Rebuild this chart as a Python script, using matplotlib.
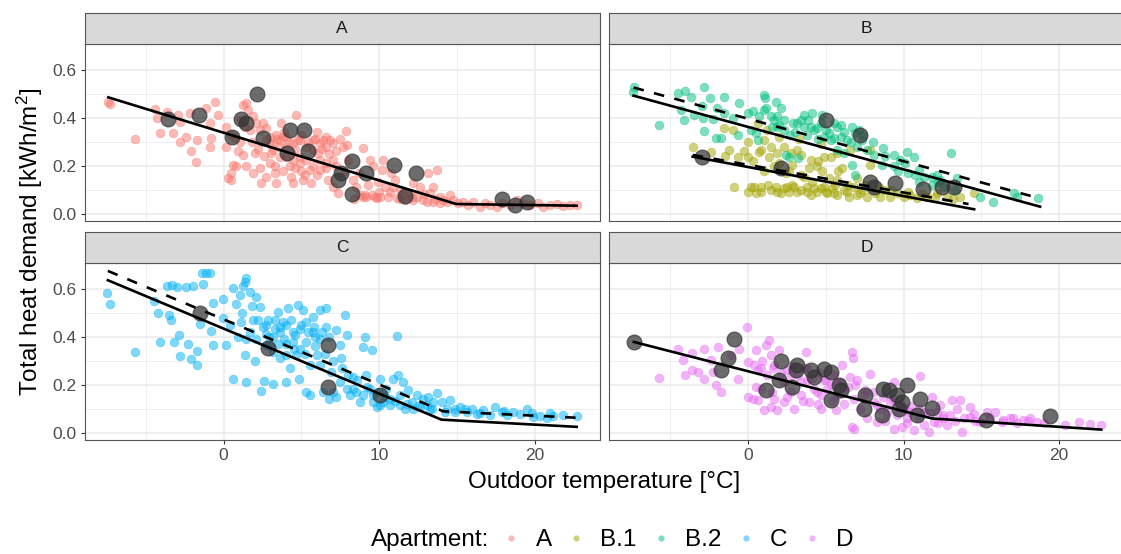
import matplotlib.pyplot as plt
from matplotlib.lines import Line2D
import numpy as np

plt.rcParams['font.family'] = ['Liberation Sans', 'DejaVu Sans']
plt.rcParams['mathtext.fontset'] = 'custom'
plt.rcParams['mathtext.rm'] = 'Liberation Sans'
plt.rcParams['mathtext.it'] = 'Liberation Sans:italic'

# ---- data: (outdoor temperature, heat demand) ----
apt_a = [(-7.45, .465), (-7.34, .457), (-5.73, .312), (-4.44, .438), (-3.65, .426), (-4.27, .399),
         (-4.12, .336), (-3.26, .336), (-2.83, .382), (-2.83, .301), (-2.40, .322), (-2.94, .413),
         (-2.19, .420), (-1.72, .308), (-2.08, .263), (-1.76, .217), (-1.16, .440), (-0.90, .280),
         (-0.79, .315), (-0.90, .378), (-0.58, .465), (-0.36, .413), (0.17, .364), (0.17, .280),
         (0.28, .148), (0.49, .141), (0.60, .203), (0.49, .169), (0.82, .197), (0.71, .315),
         (1.03, .301), (1.24, .245), (1.46, .197), (1.57, .433), (1.46, .461), (1.89, .406),
         (2.10, .378), (2.00, .252), (1.89, .169), (2.32, .190), (2.42, .127), (2.75, .155),
         (2.96, .210), (3.07, .252), (3.28, .169), (3.39, .127), (3.61, .308), (3.71, .378),
         (3.82, .322), (4.03, .280), (4.25, .197), (4.36, .155), (4.46, .127), (4.68, .413),
         (4.79, .308), (4.89, .238), (5.00, .176), (5.11, .141), (5.54, .183), (5.64, .127),
         (5.75, .308), (5.97, .343), (6.07, .252), (6.18, .224), (6.39, .308), (6.61, .280),
         (6.72, .141), (6.82, .308), (7.04, .113), (7.25, .197), (7.36, .085), (7.68, .280),
         (7.85, .347), (7.90, .287), (8.00, .224), (8.33, .141), (8.54, .113), (8.76, .078),
         (8.97, .273), (9.08, .078), (9.40, .224), (9.61, .197), (9.72, .071), (10.04, .071),
         (10.15, .183), (10.26, .224), (10.36, .113), (10.58, .071), (10.79, .169), (11.01, .141),
         (11.12, .064), (11.33, .099), (11.65, .057), (11.97, .085), (12.19, .127), (12.40, .071),
         (12.62, .113), (12.83, .057), (13.15, .169), (13.26, .085), (13.48, .113), (13.69, .183),
         (13.91, .071), (14.12, .057), (14.33, .050), (14.55, .078), (14.76, .057), (15.09, .043),
         (15.41, .050), (15.73, .036), (16.05, .050), (16.48, .029), (16.80, .043), (17.12, .036),
         (17.55, .029), (17.88, .043), (18.41, .036), (18.84, .057), (19.27, .043), (19.70, .036),
         (20.24, .043), (20.56, .029), (20.99, .036), (21.42, .040), (21.85, .032), (22.27, .036),
         (22.70, .036), (2.75, .308), (2.96, .322), (3.18, .294), (3.39, .329), (3.61, .280),
         (4.03, .322), (4.46, .294), (4.89, .308), (5.32, .280), (5.75, .266), (6.18, .294),
         (6.61, .322), (7.04, .294), (3.18, .266), (3.61, .238), (4.03, .238), (4.46, .224),
         (4.89, .210), (5.32, .224), (5.75, .197), (6.18, .183), (6.61, .210), (7.04, .224),
         (1.03, .392), (1.24, .454), (1.35, .364), (1.67, .350), (2.32, .350), (2.53, .378),
         (2.75, .357), (8.97, .071), (9.18, .071), (9.51, .078), (9.83, .064), (11.33, .060),
         (12.19, .057), (13.05, .050), (13.48, .050), (13.91, .043),
         (0.5, .33), (0.9, .26), (1.8, .30), (2.2, .27), (2.6, .24), (3.0, .29), (3.4, .31),
         (3.9, .34), (4.2, .30), (4.6, .27), (5.0, .33), (5.4, .30), (5.9, .31), (6.3, .27),
         (6.8, .25), (7.2, .26), (7.5, .31), (3.3, .20), (3.8, .18), (4.6, .19), (5.2, .16),
         (6.0, .16), (6.6, .19), (7.8, .18), (8.7, .17), (9.3, .12), (10.0, .09), (10.7, .09),
         (11.5, .08), (12.1, .07), (12.9, .08), (13.6, .06), (9.9, .13), (10.9, .11), (8.4, .06)]

apt_b1 = [(-3.57, .277), (-2.39, .259), (-1.54, .357), (-1.22, .266), (-1.00, .350), (-0.90, .113),
          (-0.68, .238), (-0.04, .238), (-0.04, .092), (0.17, .113), (0.49, .085), (0.60, .378),
          (0.71, .259), (0.81, .113), (1.03, .308), (1.24, .350), (1.34, .238), (1.45, .099),
          (1.67, .197), (1.77, .113), (2.09, .085), (2.31, .106), (2.41, .169), (2.63, .092),
          (2.84, .203), (2.95, .113), (3.16, .092), (3.38, .245), (3.59, .155), (3.80, .113),
          (4.02, .078), (4.23, .106), (4.44, .197), (4.44, .092), (4.76, .176), (4.87, .113),
          (5.09, .085), (5.30, .238), (5.41, .106), (5.73, .141), (5.73, .078), (6.05, .190),
          (6.15, .099), (6.47, .071), (6.58, .266), (6.79, .113), (7.01, .078), (7.33, .099),
          (7.65, .071), (7.86, .266), (7.86, .203), (8.18, .085), (8.50, .071), (8.82, .099),
          (9.15, .071), (9.57, .085), (10.00, .071), (10.43, .078), (10.85, .064), (11.50, .071),
          (12.14, .085), (12.78, .071), (13.63, .071), (14.49, .085), (0.38, .113), (0.81, .092),
          (1.88, .092), (2.52, .113), (3.38, .099), (3.80, .092), (4.66, .106), (4.98, .092),
          (5.51, .085), (6.37, .092), (7.22, .085), (0.81, .266), (1.45, .280), (1.88, .252),
          (2.31, .280), (2.74, .252), (3.16, .266), (4.02, .224), (4.87, .238), (5.73, .252),
          (0.3, .22), (1.0, .18), (2.0, .21), (2.6, .18), (3.4, .16), (3.9, .19), (4.5, .22),
          (5.2, .15), (5.8, .18), (6.4, .12), (7.0, .15), (7.5, .12), (8.4, .11), (9.2, .10),
          (10.3, .09), (11.2, .08), (12.0, .07), (13.2, .06), (1.3, .12), (2.8, .12), (4.1, .13),
          (5.6, .12), (-1.5, .24), (-0.3, .26), (0.0, .30), (2.0, .32), (3.3, .31), (4.7, .29)]

apt_b2 = [(-7.41, .510), (-7.35, .528), (-5.71, .371), (-4.49, .506), (-4.04, .514), (-3.68, .489),
          (-4.32, .433), (-4.10, .392), (-2.82, .531), (-2.46, .482), (-2.82, .347), (-3.46, .413),
          (-2.93, .399), (-2.29, .394), (-2.07, .315), (-1.75, .315), (-1.54, .486), (-1.54, .420),
          (-0.68, .329), (-0.58, .461), (-0.04, .420), (0.17, .350), (0.49, .336), (0.60, .308),
          (0.71, .406), (1.03, .496), (1.07, .482), (1.13, .440), (1.45, .406), (1.77, .468),
          (2.09, .440), (1.67, .392), (1.88, .364), (2.31, .350), (2.41, .245), (2.63, .238),
          (2.91, .378), (3.18, .231), (3.40, .392), (3.61, .413), (3.82, .392), (4.02, .364),
          (4.12, .420), (4.44, .357), (4.66, .378), (4.76, .413), (4.87, .322), (5.19, .336),
          (5.51, .315), (5.73, .364), (5.94, .371), (6.15, .343), (6.37, .308), (6.69, .364),
          (6.90, .336), (7.12, .350), (7.33, .308), (6.69, .203), (6.90, .162), (7.65, .266),
          (8.08, .245), (8.61, .203), (8.68, .273), (9.36, .245), (9.62, .176), (9.79, .224),
          (10.11, .210), (10.21, .259), (10.64, .238), (10.75, .162), (10.96, .183), (11.28, .155),
          (11.82, .155), (12.14, .162), (12.35, .141), (13.06, .252), (13.42, .148), (14.91, .071),
          (15.72, .050), (17.09, .085), (17.26, .071), (18.65, .064), (3.16, .378), (3.59, .364),
          (4.23, .350), (5.30, .308), (5.73, .266), (6.15, .252), (7.01, .280), (1.03, .433),
          (1.88, .406), (2.31, .392),
          (3.0, .34), (3.8, .33), (4.5, .31), (5.0, .35), (5.5, .38), (6.0, .32), (6.6, .30),
          (7.4, .33), (8.0, .30), (8.8, .24), (9.4, .20), (10.3, .17), (11.0, .13), (11.8, .12),
          (12.6, .11), (13.3, .10), (12.2, .13), (1.5, .36), (2.0, .37), (2.7, .33), (-1.0, .40),
          (0.3, .43), (-3.0, .45), (-2.0, .44)]

apt_c = [(-7.51, .582), (-7.34, .536), (-5.69, .335), (-4.51, .550), (-4.23, .498), (-4.08, .377),
         (-3.65, .614), (-3.30, .618), (-2.98, .607), (-2.45, .609), (-1.97, .614), (-3.52, .491),
         (-3.37, .470), (-3.22, .377), (-2.88, .410), (-2.83, .321), (-2.30, .372), (-2.08, .307),
         (-1.72, .340), (-1.72, .282), (-1.37, .669), (-1.12, .669), (-0.90, .669), (-1.33, .621),
         (-1.55, .453), (-0.79, .424), (-0.69, .365), (-0.69, .540), (-0.04, .558), (-0.04, .480),
         (0.17, .368), (0.60, .226), (0.60, .603), (0.82, .536), (1.03, .575), (1.24, .614),
         (1.46, .647), (1.35, .628), (1.46, .212), (1.14, .463), (1.46, .393), (1.35, .324),
         (1.67, .589), (1.89, .470), (2.00, .298), (2.10, .568), (2.32, .526), (2.42, .173),
         (2.58, .215), (2.75, .414), (2.85, .470), (3.18, .205), (3.28, .435), (3.50, .505),
         (3.61, .310), (3.82, .463), (4.03, .212), (4.03, .372), (4.14, .519), (4.25, .268),
         (4.46, .421), (4.68, .324), (4.79, .533), (4.85, .223), (5.11, .512), (5.32, .379),
         (5.32, .170), (5.54, .282), (5.54, .156), (5.75, .484), (5.86, .400), (5.97, .324),
         (6.18, .512), (6.39, .170), (6.61, .519), (6.61, .442), (6.78, .142), (6.93, .254),
         (7.04, .170), (7.25, .149), (7.47, .365), (7.57, .310), (7.79, .491), (7.90, .410),
         (7.90, .184), (8.11, .156), (8.33, .233), (8.54, .170), (8.76, .128), (8.93, .358),
         (9.08, .400), (9.18, .240), (9.40, .184), (9.51, .344), (9.61, .128), (9.83, .107),
         (10.04, .226), (10.26, .128), (10.47, .184), (10.69, .114), (10.90, .226), (11.12, .403),
         (11.22, .240), (11.33, .156), (11.55, .212), (11.65, .100), (11.87, .177), (12.08, .128),
         (12.40, .156), (12.62, .107), (12.83, .142), (13.15, .149), (13.37, .100), (13.69, .167),
         (14.01, .128), (14.33, .100), (14.55, .135), (14.87, .086), (15.19, .107), (15.62, .086),
         (15.94, .100), (16.27, .079), (16.70, .093), (17.12, .073), (17.45, .107), (17.88, .086),
         (18.20, .073), (18.63, .086), (19.06, .079), (19.48, .098), (19.91, .066), (20.34, .070),
         (20.77, .061), (21.20, .070), (21.85, .073), (22.70, .070), (2.75, .449), (3.18, .400),
         (3.61, .421), (4.03, .449), (4.46, .379), (4.89, .435), (5.32, .463), (5.75, .421),
         (6.18, .393), (4.89, .351), (4.03, .324), (3.18, .338), (2.75, .365), (2.10, .393),
         (1.67, .421), (6.18, .282), (7.47, .212), (8.33, .184), (8.97, .156), (9.61, .156),
         (10.04, .114), (10.69, .142), (11.33, .114), (12.19, .100), (13.05, .114), (13.48, .128),
         (14.23, .086), (14.87, .100),
         (0.4, .45), (0.9, .40), (1.2, .50), (1.8, .53), (2.2, .47), (2.5, .44), (2.9, .40),
         (3.3, .47), (3.6, .44), (3.9, .39), (4.3, .47), (4.6, .41), (5.0, .45), (5.4, .42),
         (5.8, .44), (6.3, .42), (6.8, .40), (7.2, .43), (3.0, .36), (3.5, .37), (4.5, .35),
         (5.2, .33), (5.9, .36), (6.5, .33), (7.0, .30), (7.6, .27), (8.0, .24), (8.6, .22),
         (9.2, .19), (9.9, .17), (10.4, .15), (11.0, .13), (11.8, .12), (12.5, .11), (13.3, .10),
         (15.5, .10), (16.5, .08), (18.0, .09), (19.8, .08), (21.0, .08)]

apt_d = [(-5.71, .229), (-4.49, .351), (-4.21, .303), (-4.04, .240), (-3.63, .331), (-3.63, .261),
         (-3.25, .254), (-2.82, .349), (-2.82, .226), (-2.39, .303), (-2.29, .254), (-2.07, .198),
         (-1.75, .170), (-1.97, .358), (-1.11, .324), (-0.68, .226), (-0.58, .351), (-0.09, .442),
         (-0.04, .296), (-0.04, .149), (0.28, .142), (0.49, .344), (0.60, .261), (0.60, .135),
         (0.81, .184), (1.03, .093), (1.13, .365), (1.34, .386), (1.45, .324), (1.45, .107),
         (1.67, .142), (1.88, .093), (1.99, .344), (2.31, .128), (2.52, .261), (2.74, .170),
         (2.95, .100), (3.38, .156), (3.70, .338), (3.80, .219), (3.91, .128), (4.44, .170),
         (4.66, .100), (4.87, .219), (5.09, .184), (5.62, .093), (5.73, .212), (6.05, .282),
         (6.15, .121), (6.58, .233), (6.69, .338), (6.75, .312), (6.69, .024), (6.79, .017),
         (7.01, .219), (7.22, .100), (7.65, .059), (7.86, .247), (8.08, .128), (8.29, .045),
         (8.50, .100), (8.93, .086), (9.36, .212), (9.36, .017), (9.57, .073), (9.89, .024),
         (10.21, .038), (10.64, .010), (11.07, .237), (10.96, .059), (11.28, .031), (11.60, .003),
         (11.82, .149), (11.92, .045), (12.35, .114), (12.56, .073), (12.78, .031), (13.10, .135),
         (13.42, .100), (13.63, .135), (13.74, .003), (13.85, .059), (14.27, .107), (14.49, .079),
         (14.91, .045), (15.34, .086), (15.87, .086), (16.30, .045), (16.84, .059), (17.26, .038),
         (17.69, .052), (18.12, .059), (18.55, .045), (17.00, .059), (21.30, .044), (22.70, .031),
         (22.00, .036), (19.00, .039), (20.40, .031), (18.00, .050), (0.38, .282), (0.81, .268),
         (1.24, .240), (1.67, .282), (2.31, .212), (2.74, .240), (3.38, .212), (3.80, .268),
         (4.23, .184), (4.66, .156), (5.30, .198), (5.73, .156), (6.15, .184), (6.79, .142),
         (7.44, .156), (8.29, .114), (9.15, .128), (10.00, .100), (10.43, .086), (11.28, .086),
         (12.14, .086), (12.99, .073), (14.27, .066), (15.55, .059), (16.41, .052),
         (0.9, .30), (1.6, .27), (2.1, .25), (2.8, .28), (3.2, .24), (3.6, .27), (4.1, .23),
         (4.6, .25), (5.0, .22), (5.5, .24), (6.0, .21), (6.4, .19), (6.9, .20), (7.5, .18),
         (8.0, .17), (8.7, .15), (9.3, .14), (9.8, .12), (10.5, .11), (11.0, .10), (11.7, .08),
         (12.5, .06), (13.3, .05), (14.6, .05), (0.5, .19), (1.5, .17), (2.5, .15), (3.5, .13),
         (4.5, .12), (5.4, .13), (8.8, .05), (10.2, .06), (12.2, .04)]

# larger dark markers
big_a = [(-3.56, .394), (-1.56, .412), (2.13, .500), (1.12, .394), (1.42, .380), (0.52, .322),
         (2.52, .317), (4.27, .349), (5.17, .349), (4.10, .252), (5.45, .262), (8.24, .221),
         (9.16, .171), (7.53, .171), (7.38, .141), (8.24, .082), (10.96, .203), (12.36, .169),
         (11.67, .075), (17.93, .060), (18.71, .034), (19.50, .050)]
big_b = [(4.98, .392), (7.22, .329), (-2.99, .236), (2.09, .190), (7.86, .134), (8.12, .113),
         (9.42, .127), (11.24, .102), (12.46, .113), (13.21, .113)]
big_c = [(-1.55, .502), (2.85, .354), (6.72, .365), (6.72, .191), (10.04, .159)]
big_d = [(-7.35, .377), (-0.90, .391), (-1.32, .312), (-1.75, .261), (1.13, .177), (2.09, .298),
         (1.99, .219), (2.84, .191), (3.16, .284), (3.06, .261), (4.02, .261), (4.23, .233),
         (4.87, .265), (5.30, .254), (5.83, .201), (5.94, .177), (5.30, .135), (7.54, .156),
         (7.44, .098), (8.61, .073), (8.68, .184), (9.04, .177), (9.57, .156), (10.21, .198),
         (9.89, .128), (9.68, .098), (11.07, .142), (11.82, .103), (10.85, .073), (15.30, .052),
         (19.40, .068)]

# fitted lines: (x points, y points)
fit_a = ([-7.42, 14.95, 22.7], [0.486, 0.040, 0.033])
fit_b2 = ([-7.37, 18.77], [0.493, 0.029])
fit_b2_dash = ([-7.37, 18.33], [0.527, 0.071])
fit_b1 = ([-3.57, 14.53], [0.238, 0.018])
fit_b1_dash = ([-3.57, 14.17], [0.245, 0.040])
fit_c = ([-7.45, 14.01, 22.7], [0.637, 0.054, 0.024])
fit_c_dash = ([-7.45, 14.12, 22.7], [0.676, 0.089, 0.062])
fit_d = ([-7.35, 11.82, 22.7], [0.379, 0.059, 0.0125])

colours = {'A': '#F8766D', 'B.1': '#A3A500', 'B.2': '#00BF7D', 'C': '#00B0F6', 'D': '#E76BF3'}

panels = [
    ('A', [('A', apt_a)], big_a, [(fit_a, '-')]),
    ('B', [('B.1', apt_b1), ('B.2', apt_b2)], big_b,
     [(fit_b2, '-'), (fit_b2_dash, '--'), (fit_b1, '-'), (fit_b1_dash, '--')]),
    ('C', [('C', apt_c)], big_c, [(fit_c, '-'), (fit_c_dash, '--')]),
    ('D', [('D', apt_d)], big_d, [(fit_d, '-')]),
]

W, H = 1121, 554
fig = plt.figure(figsize=(W / 100, H / 100), dpi=100)

pw, ph = 515.5, 177
lefts = [84.5, 609]
tops = [44, 263]
border = '#555555'

for i, (name, groups, big, fits) in enumerate(panels):
    row, col = divmod(i, 2)
    l, t = lefts[col], tops[row]
    ax = fig.add_axes([l / W, 1 - (t + ph) / H, pw / W, ph / H])
    sx = fig.add_axes([l / W, 1 - t / H, pw / W, 31 / H])
    sx.set_facecolor('#D9D9D9')
    sx.set_xticks([])
    sx.set_yticks([])
    for s in sx.spines.values():
        s.set_color(border)
        s.set_linewidth(0.8)
    sx.text(0.5, 0.5, name, ha='center', va='center', fontsize=12.5, color='#1A1A1A',
            transform=sx.transAxes)

    for grp, pts in groups:
        arr = np.array(pts)
        ax.scatter(arr[:, 0], arr[:, 1], s=40, color=colours[grp], alpha=0.5,
                   edgecolors=colours[grp], linewidths=0.4, zorder=2)
    barr = np.array(big)
    ax.scatter(barr[:, 0], barr[:, 1], s=115, color='#333333', alpha=0.72,
               edgecolors='#333333', linewidths=0.8, zorder=3)
    for (fx, fy), ls in fits:
        if ls == '--':
            ax.plot(fx, fy, color='black', lw=1.9, linestyle=(0, (4, 4)), zorder=4)
        else:
            ax.plot(fx, fy, color='black', lw=1.9, zorder=4)

    ax.set_xlim(-8.95, 24.2)
    ax.set_ylim(-0.031, 0.709)
    ax.set_xticks([0, 10, 20])
    ax.set_xticks([-5, 5, 15], minor=True)
    ax.set_yticks([0, 0.2, 0.4, 0.6])
    ax.set_yticks([0.1, 0.3, 0.5], minor=True)
    ax.grid(which='major', color='#EBEBEB', lw=1.1, zorder=0)
    ax.grid(which='minor', color='#EBEBEB', lw=0.55, zorder=0)
    ax.set_axisbelow(True)
    for s in ax.spines.values():
        s.set_color(border)
        s.set_linewidth(0.8)
    ax.tick_params(which='minor', length=0)
    ax.tick_params(which='major', length=3, width=0.8, color='#333333',
                   labelsize=12.5, labelcolor='#4D4D4D', pad=2.5)
    if col == 1:
        ax.tick_params(axis='y', length=0, labelleft=False)
    else:
        ax.set_yticklabels(['0.0', '0.2', '0.4', '0.6'])
    if row == 0:
        ax.tick_params(axis='x', length=0, labelbottom=False)

fig.text(604.5 / W, 1 - 482 / H, 'Outdoor temperature [°C]', ha='center', va='center',
         fontsize=17.5, color='black')
fig.text(30 / W, 1 - 242 / H, 'Total heat demand [kWh/m$^{2}$]', ha='center', va='center',
         rotation=90, fontsize=17.5, color='black')

# legend
fig.text(489 / W, 1 - 540 / H, 'Apartment:', ha='right', va='center', fontsize=17.5)
handles = [Line2D([], [], linestyle='none', marker='o', markersize=4.5, alpha=0.5,
                  markerfacecolor=colours[k], markeredgewidth=0) for k in colours]
fig.legend(handles, list(colours.keys()), loc='center left',
           bbox_to_anchor=(499 / W, 1 - 540 / H), ncol=5, frameon=False,
           fontsize=17.5, handlelength=1, handletextpad=0.5, columnspacing=0.5,
           borderpad=0, borderaxespad=0)

fig.savefig('out.png', dpi=100)
